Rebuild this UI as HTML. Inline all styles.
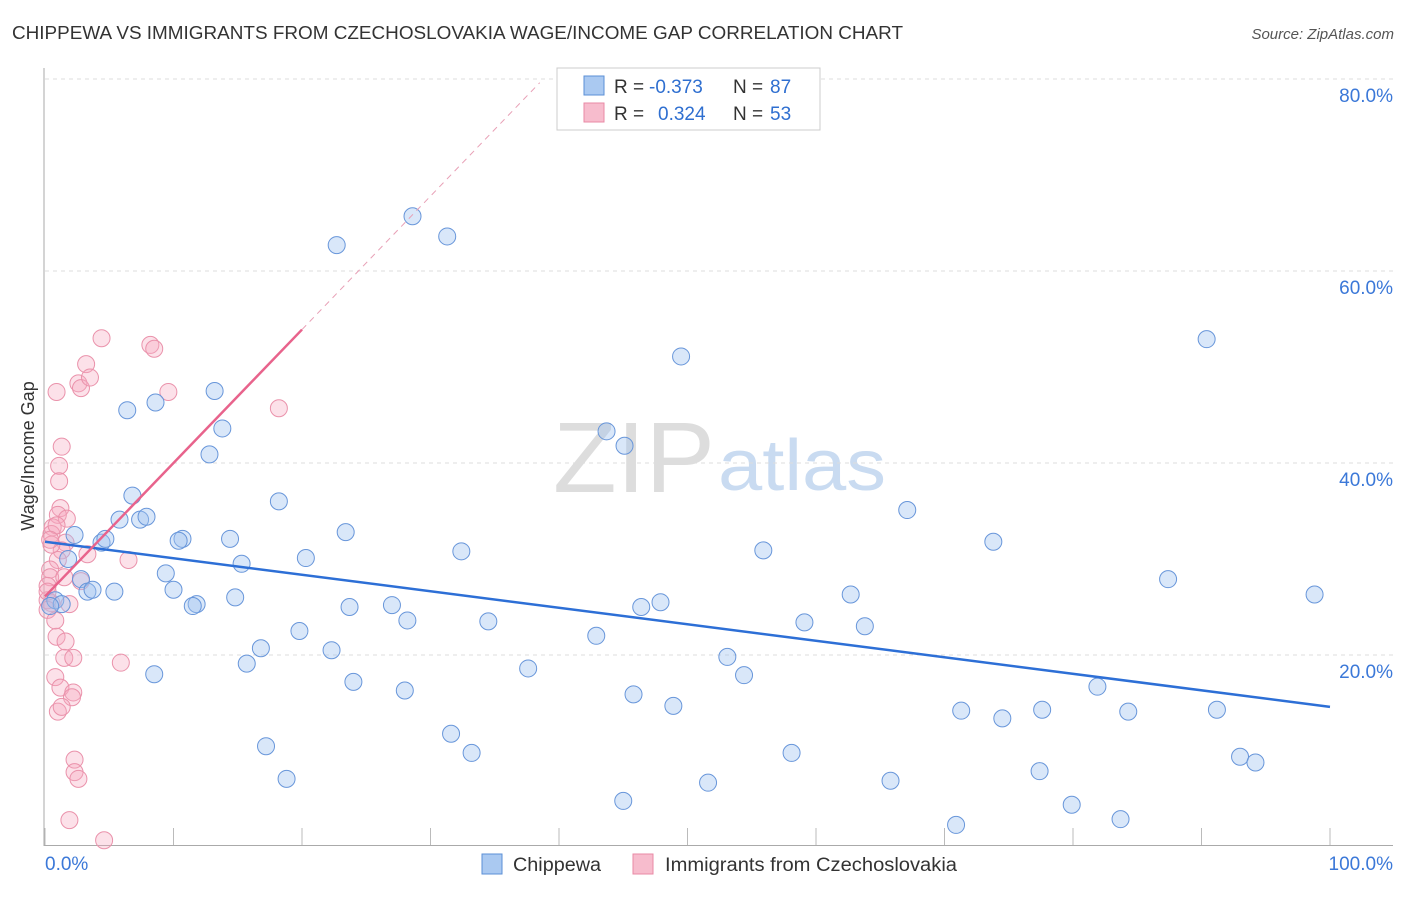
<!DOCTYPE html>
<html><head><meta charset="utf-8"><style>
body{margin:0;background:#fff;font-family:"Liberation Sans",sans-serif;}
svg text{font-family:"Liberation Sans",sans-serif;}
</style></head><body>
<svg id="chart" width="1406" height="892" xmlns="http://www.w3.org/2000/svg">
<text x="12" y="39" font-size="18" fill="#333" textLength="891" lengthAdjust="spacingAndGlyphs">CHIPPEWA VS IMMIGRANTS FROM CZECHOSLOVAKIA WAGE/INCOME GAP CORRELATION CHART</text>
<text x="1394" y="39" font-size="15" fill="#555" font-style="italic" text-anchor="end">Source: ZipAtlas.com</text>
<g>
<text x="553" y="492" font-size="100" font-family="Liberation Serif,serif" fill="#ddd" textLength="162" lengthAdjust="spacingAndGlyphs">ZIP</text>
<text x="718" y="490" font-size="72" fill="#c9dbf1" textLength="168" lengthAdjust="spacingAndGlyphs">atlas</text>
</g>
<g id="grid"></g>
<g id="axes"></g>
<g id="marks"></g>
<text transform="translate(34,456) rotate(-90)" font-size="18" fill="#333" text-anchor="middle">Wage/Income Gap</text>
<g>
<rect x="557" y="68" width="263" height="62" fill="#fff" stroke="#ccc"/>
<rect x="584" y="76" width="20" height="19" fill="#aac9f1" stroke="#5b8fd6"/>
<rect x="584" y="103" width="20" height="19" fill="#f7bccd" stroke="#e88aa5"/>
<text x="614" y="93" font-size="19" fill="#333">R =</text>
<text x="649" y="93" font-size="19" fill="#2f6fd0">-0.373</text>
<text x="733" y="93" font-size="19" fill="#333">N =</text>
<text x="770" y="93" font-size="19" fill="#2f6fd0">87</text>
<text x="614" y="120" font-size="19" fill="#333">R =</text>
<text x="658" y="120" font-size="19" fill="#2f6fd0">0.324</text>
<text x="733" y="120" font-size="19" fill="#333">N =</text>
<text x="770" y="120" font-size="19" fill="#2f6fd0">53</text>
</g>
<g>
<rect x="482" y="854" width="20" height="20" fill="#aac9f1" stroke="#5b8fd6"/>
<text x="513" y="871" font-size="19" fill="#333" textLength="88" lengthAdjust="spacingAndGlyphs">Chippewa</text>
<rect x="633" y="854" width="20" height="20" fill="#f7bccd" stroke="#e88aa5"/>
<text x="665" y="871" font-size="19" fill="#333" textLength="292" lengthAdjust="spacingAndGlyphs">Immigrants from Czechoslovakia</text>
</g>
</svg>
<script>
const yTicks=[20,40,60,80];
const yTickLabels=["20.0%","40.0%","60.0%","80.0%"];
const xTickLabels=["0.0%","100.0%"];
const blueX=[28.6,31.3,22.7,49.5,90.4,6.4,8.6,13.2,13.8,12.8,43.7,45.1,6.8,18.2,67.1,5.8,7.4,7.9,23.4,10.7,10.4,14.4,4.4,4.7,2.3,1.8,32.4,55.9,73.8,20.3,15.3,9.4,2.8,87.4,3.3,5.4,3.7,10.0,14.8,11.8,11.5,23.7,27.0,46.4,47.9,62.7,98.8,0.8,1.3,28.2,34.5,59.1,63.8,19.8,42.9,16.8,22.3,53.1,15.7,37.6,8.5,54.4,24.0,28.0,81.9,45.8,48.9,71.3,74.5,77.6,84.3,91.2,31.6,17.2,33.2,58.1,93.0,94.2,18.8,51.6,65.8,77.4,45.0,79.9,70.9,83.7,0.4];
const blueY=[65.7,63.6,62.7,51.1,52.9,45.5,46.3,47.5,43.6,40.9,43.3,41.8,36.6,36.0,35.1,34.1,34.1,34.4,32.8,32.1,31.9,32.1,31.7,32.1,32.5,30.0,30.8,30.9,31.8,30.1,29.5,28.5,27.9,27.9,26.6,26.6,26.8,26.8,26.0,25.3,25.1,25.0,25.2,25.0,25.5,26.3,26.3,25.7,25.3,23.6,23.5,23.4,23.0,22.5,22.0,20.7,20.5,19.8,19.1,18.6,18.0,17.9,17.2,16.3,16.7,15.9,14.7,14.2,13.4,14.3,14.1,14.3,11.8,10.5,9.8,9.8,9.4,8.8,7.1,6.7,6.9,7.9,4.8,4.4,2.3,2.9,25.1];
const pinkX=[4.4,8.2,8.5,3.2,2.6,2.8,0.9,3.5,9.6,18.2,1.3,1.1,1.1,1.2,1.0,1.7,0.6,0.5,1.6,1.3,3.3,1.0,6.5,0.4,0.4,1.5,2.8,0.2,0.5,1.9,0.9,1.6,1.5,2.2,0.8,1.2,2.2,2.1,1.0,1.3,2.3,2.3,2.6,1.9,4.6,5.9,0.2,0.2,0.5,0.9,0.4,0.8,0.2];
const pinkY=[53.0,52.3,51.9,50.3,48.3,47.8,47.4,48.9,47.4,45.7,41.7,39.7,38.1,35.3,34.6,34.2,33.3,32.6,31.7,30.9,30.5,29.9,29.9,28.9,28.1,28.1,27.7,27.2,25.4,25.3,21.9,21.4,19.7,19.7,17.7,16.6,16.1,15.6,14.1,14.6,9.1,7.8,7.1,2.8,0.7,19.2,25.7,24.7,31.5,33.5,32.0,23.6,26.6];
const blueTrend=[31.8,14.6];   // y at x=0 and x=100
const pinkTrend=[26.1,1.39];   // intercept, slope
const X=v=>45+v*12.85, Y=v=>847-v*9.6;
const NS="http://www.w3.org/2000/svg";
function mk(p,t,a){const e=document.createElementNS(NS,t);for(const k in a)e.setAttribute(k,a[k]);p.appendChild(e);return e;}
const grid=document.getElementById('grid'),axes=document.getElementById('axes'),marks=document.getElementById('marks');
yTicks.forEach((t,i)=>{
 const l=mk(grid,'line',{x1:45,x2:1393,y1:Y(t),y2:Y(t),stroke:'#ddd','stroke-dasharray':'4,4'});
 
 
 const tx=mk(grid,'text',{x:1393,y:Y(t)+23,'font-size':19,fill:'#3b78d8','text-anchor':'end'});
 tx.textContent=yTickLabels[i];
 
 
});
mk(grid,'line',{x1:45,x2:1393,y1:79,y2:79,stroke:'#ddd','stroke-dasharray':'4,4'});
mk(axes,'line',{x1:44,x2:44,y1:68,y2:846,stroke:'#aaa'});
mk(axes,'line',{x1:44,x2:1393,y1:845.5,y2:845.5,stroke:'#aaa'});
for(let i=0;i<=10;i++){const t=mk(axes,'line',{x1:X(i*10),x2:X(i*10),y1:828,y2:845,stroke:'#bbb'});
 
 }
const xl0=mk(axes,'text',{x:45,y:870,'font-size':19,fill:'#3b78d8'});xl0.textContent=xTickLabels[0];


const xl1=mk(axes,'text',{x:1393,y:870,'font-size':19,fill:'#3b78d8','text-anchor':'end'});xl1.textContent=xTickLabels[1];


pinkX.forEach((x,i)=>{const c=mk(marks,'circle',{cx:X(x),cy:Y(pinkY[i]),r:8.5,fill:'rgba(246,170,193,0.35)',stroke:'#ea92ab','stroke-width':1});
 
 });
blueX.forEach((x,i)=>{const c=mk(marks,'circle',{cx:X(x),cy:Y(blueY[i]),r:8.5,fill:'rgba(160,195,240,0.4)',stroke:'#6896da','stroke-width':1});
 
 });
const bl=mk(marks,'line',{x1:X(0),y1:Y(blueTrend[0]),x2:X(100),y2:Y(blueTrend[1]),stroke:'#2d6fd6','stroke-width':2.5});


const pl=mk(marks,'line',{x1:X(0),y1:Y(pinkTrend[0]),x2:X(20),y2:Y(pinkTrend[0]+pinkTrend[1]*20),stroke:'#e8638c','stroke-width':2.5});


const pd=mk(marks,'line',{x1:X(20),y1:Y(pinkTrend[0]+pinkTrend[1]*20),x2:X(38.5),y2:Y(pinkTrend[0]+pinkTrend[1]*38.5),stroke:'#e8a0b6','stroke-width':1,'stroke-dasharray':'6,5'});


</script>
</body></html>
